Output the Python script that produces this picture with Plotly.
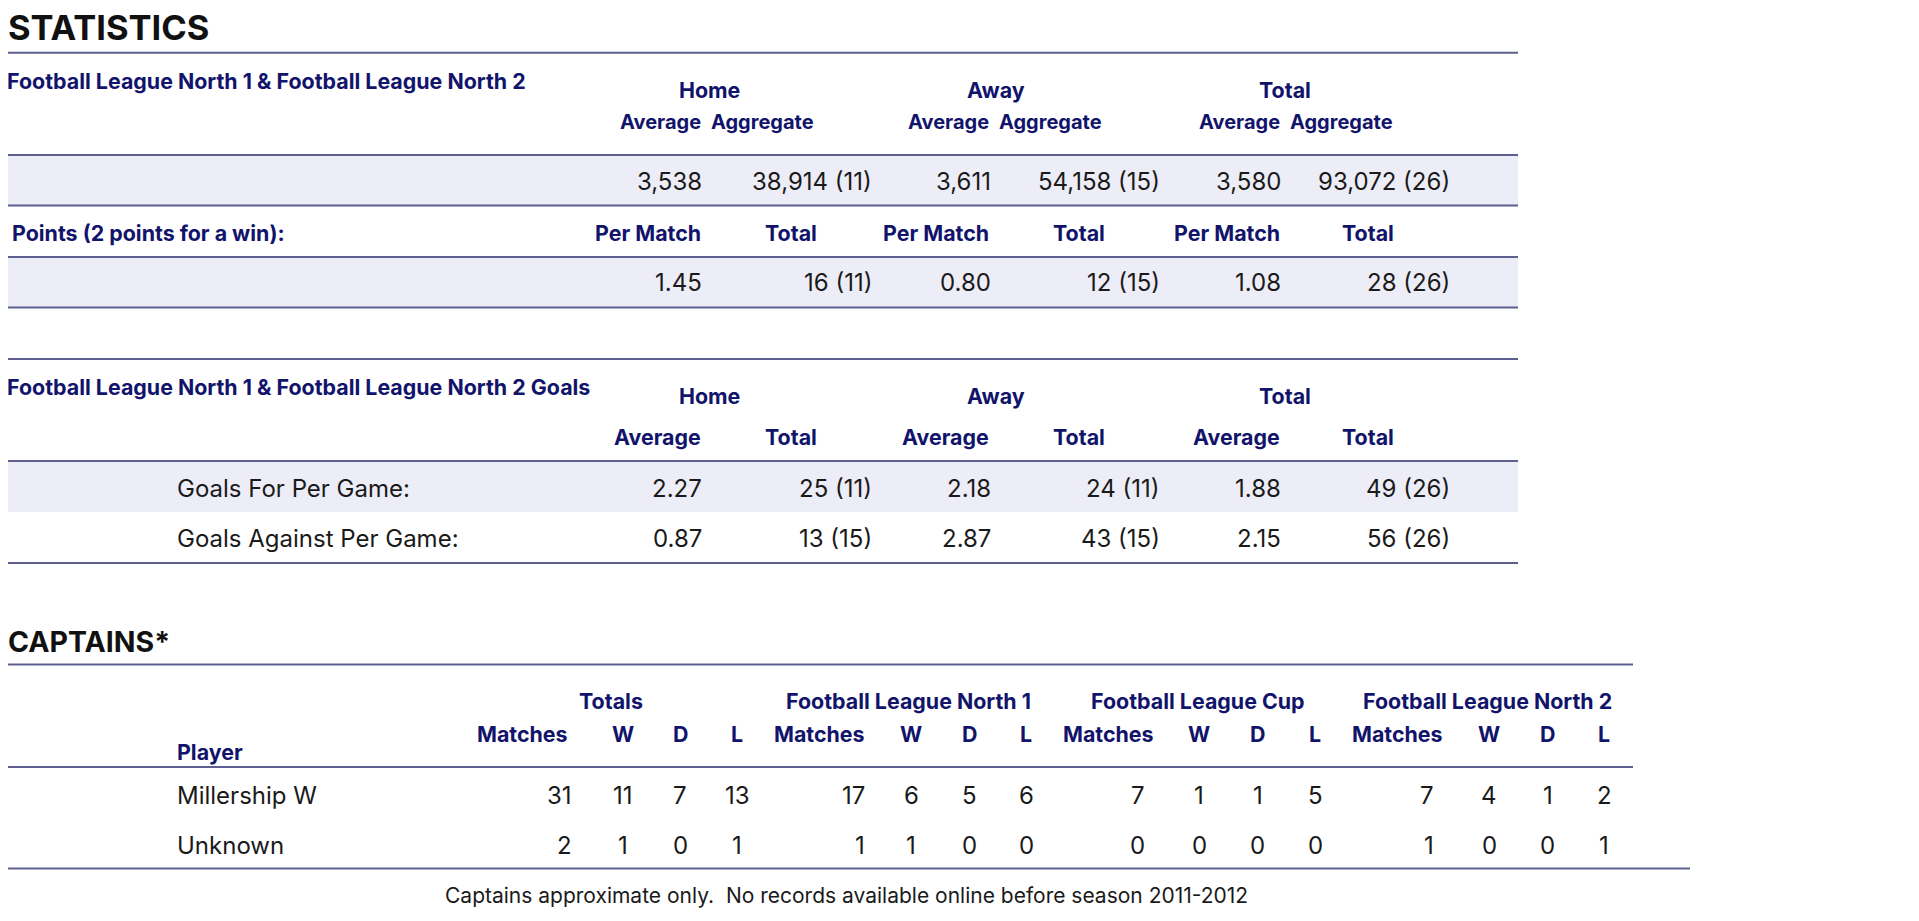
import plotly.graph_objects as go

# ---------------- DATA ----------------
stat_groups = ["Home", "Away", "Total"]
att_average = [3538, 3611, 3580]
att_aggregate = [38914, 54158, 93072]
att_games = [11, 15, 26]

pts_per_match = [1.45, 0.80, 1.08]
pts_total = [16, 12, 28]
pts_games = [11, 15, 26]

goal_rows = ["Goals For Per Game:", "Goals Against Per Game:"]
goals_avg = [[2.27, 2.18, 1.88], [0.87, 2.87, 2.15]]
goals_total = [[25, 24, 49], [13, 43, 56]]
goals_games = [[11, 11, 26], [15, 15, 26]]

cap_groups = ["Totals", "Football League North 1", "Football League Cup", "Football League North 2"]
cap_sub = ["Matches", "W", "D", "L"]
cap_players = ["Millership W", "Unknown"]
cap_values = [
    [[31, 11, 7, 13], [17, 6, 5, 6], [7, 1, 1, 5], [7, 4, 1, 2]],
    [[2, 1, 0, 1], [1, 1, 0, 0], [0, 0, 0, 0], [1, 0, 0, 1]],
]
footnote = "Captains approximate only.\u00a0 No records available online before season 2011-2012"

# ---------------- LAYOUT / STYLE ----------------
W, H = 1919, 921
OFF = 8  # page body margin
NAVY = "#12146b"
BLACK = "#1a1a1a"
LINE = "#5c5f8f"
SHADE = "#ededf7"
HFONT = "Inter"
BFONT = "Inter"
HS = 21.4  # header size
BS = 24    # body size

shapes = []
ann = []


def hline(y, x1, x0=OFF):
    shapes.append(dict(type="line", xref="x", yref="y", x0=x0, x1=x1, y0=y, y1=y,
                       line=dict(color=LINE, width=2)))


def band(y0, y1, x1):
    shapes.append(dict(type="rect", xref="x", yref="y", x0=OFF, x1=x1, y0=y0, y1=y1,
                       fillcolor=SHADE, line=dict(width=0), layer="below"))


def txt(x, y, s, anchor="center", size=BS, color=BLACK, bold=False, family=BFONT):
    shift = 0
    if x < OFF + 1:
        shift = x - (OFF + 1)
        x = OFF + 1
    ann.append(dict(x=x, y=y, xref="x", yref="y", text=s, showarrow=False,
                    xanchor=anchor, yanchor="middle", xshift=shift,
                    font=dict(family=family, size=size, color=color,
                              weight=700 if bold else 400)))


# column geometry for statistics block
S_RIGHT = 1518
avg_right = [704, 993, 1283]
agg_right = [874, 1162, 1452]
hdr_right = [703, 991, 1282]
grp_center = [709, 996, 1285]
tot_center = [791, 1079, 1368]
LABEL_X = 175

# Title
txt(6, 27, "STATISTICS", "left", 34.5, "#111111", True)
hline(52.7, S_RIGHT)

# Attendance block
txt(5, 81, "Football League North 1 & Football League North 2", "left", HS, NAVY, True, HFONT)
for i, g in enumerate(stat_groups):
    txt(grp_center[i], 90, g, "center", HS, NAVY, True, HFONT)
    txt(hdr_right[i], 122, "Average", "right", 20, NAVY, True, HFONT)
    txt(hdr_right[i] + 6, 122, "Aggregate", "left", 20, NAVY, True, HFONT)
band(155, 205.5, S_RIGHT)
hline(155, S_RIGHT)
for i in range(3):
    txt(avg_right[i], 181, f"{att_average[i]:,}", "right")
    txt(agg_right[i], 181, f"{att_aggregate[i]:,} ({att_games[i]})", "right")
hline(205.5, S_RIGHT)

# Points block
txt(10, 233, "Points (2 points for a win):", "left", HS, NAVY, True, HFONT)
for i in range(3):
    txt(hdr_right[i], 233, "Per Match", "right", HS, NAVY, True, HFONT)
    txt(tot_center[i], 233, "Total", "center", HS, NAVY, True, HFONT)
band(257, 307.5, S_RIGHT)
hline(257, S_RIGHT)
for i in range(3):
    txt(avg_right[i], 282, f"{pts_per_match[i]:.2f}", "right")
    txt(agg_right[i], 282, f"{pts_total[i]} ({pts_games[i]})", "right")
hline(307.5, S_RIGHT)

# Goals block
hline(359, S_RIGHT)
txt(5, 387, "Football League North 1 & Football League North 2 Goals", "left", HS, NAVY, True, HFONT)
for i, g in enumerate(stat_groups):
    txt(grp_center[i], 396, g, "center", HS, NAVY, True, HFONT)
    txt(hdr_right[i], 437, "Average", "right", HS, NAVY, True, HFONT)
    txt(tot_center[i], 437, "Total", "center", HS, NAVY, True, HFONT)
band(461, 512, S_RIGHT)
hline(461, S_RIGHT)
goal_y = [488, 538.5]
for r, label in enumerate(goal_rows):
    txt(LABEL_X, goal_y[r], label, "left")
    for i in range(3):
        txt(avg_right[i], goal_y[r], f"{goals_avg[r][i]:.2f}", "right")
        txt(agg_right[i], goal_y[r], f"{goals_total[r][i]} ({goals_games[r][i]})", "right")
hline(563, S_RIGHT)

# Captains block
C_RIGHT = 1633
txt(6, 641, "CAPTAINS*", "left", 28.5, "#111111", True)
hline(664.5, C_RIGHT)
cap_group_center = [611, 908.7, 1198.3, 1487]
match_hdr_right = [570, 866.5, 1156, 1445]
match_num_right = [574, 867, 1147, 1436]
wdl_center = [[622.5, 680, 737], [911, 969, 1026], [1199, 1257.5, 1315], [1489, 1547.5, 1604]]
for g, name in enumerate(cap_groups):
    txt(cap_group_center[g], 701, name, "center", HS, NAVY, True, HFONT)
    txt(match_hdr_right[g], 733.5, cap_sub[0], "right", HS, NAVY, True, HFONT)
    for k in range(3):
        txt(wdl_center[g][k], 733.5, cap_sub[k + 1], "center", HS, NAVY, True, HFONT)
txt(LABEL_X, 751.5, "Player", "left", HS, NAVY, True, HFONT)
hline(767, C_RIGHT)
row_y = [795, 845.5]
for r, p in enumerate(cap_players):
    txt(LABEL_X, row_y[r], p, "left")
    for g in range(4):
        vals = cap_values[r][g]
        txt(match_num_right[g], row_y[r], str(vals[0]), "right")
        for k in range(3):
            txt(wdl_center[g][k], row_y[r], str(vals[k + 1]), "center")
hline(868.5, 1690)
txt(846, 895, footnote, "center", 21)

fig = go.Figure()
fig.update_layout(
    width=W - OFF, height=H - OFF, margin=dict(l=0, r=0, t=0, b=0),
    paper_bgcolor="white", plot_bgcolor="white",
    xaxis=dict(range=[OFF, W], visible=False, fixedrange=True),
    yaxis=dict(range=[H, OFF], visible=False, fixedrange=True),
    shapes=shapes, annotations=ann, showlegend=False,
)
fig.write_html("out.html", config={"displayModeBar": False})
